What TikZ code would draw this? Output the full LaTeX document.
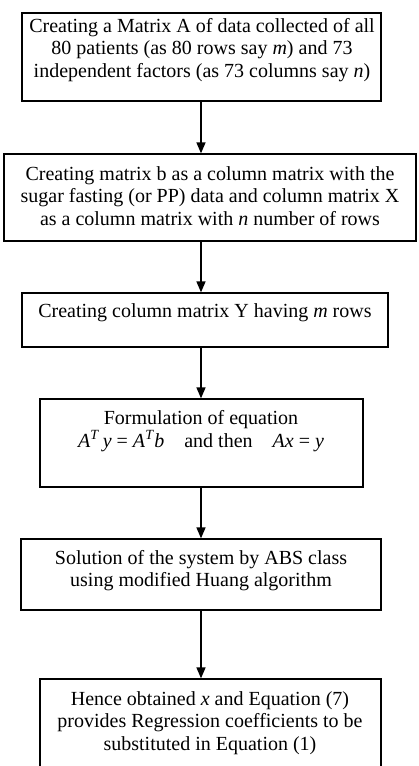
\documentclass[tikz,border=0pt]{standalone}
\usepackage{fontspec}
\setmainfont{Liberation Serif}
\usepackage{tikz}
\usetikzlibrary{arrows.meta}
\tikzset{box/.style={rectangle,draw,line width=1.3pt,inner sep=0pt}}
\tikzset{txt/.style={align=center,inner sep=0pt}}
\tikzset{flow/.style={line width=1.6pt,-{Triangle[width=9pt,length=11pt]}}}

\begin{document}
\begin{tikzpicture}[x=1pt,y=-1pt,font=\fontsize{20}{22.5}\selectfont]
      \useasboundingbox (0,0) rectangle (418,766);
      \coordinate (ax) at (201,0);
      \node[box,minimum width=359pt,minimum height=88pt] (b1) at (201.5,57) {};
      \node[box,minimum width=412pt,minimum height=87pt] (b2) at (210,197.5) {};
      \node[box,minimum width=366pt,minimum height=54pt] (b3) at (205,320) {};
      \node[box,minimum width=323pt,minimum height=88pt] (b4) at (201.5,443) {};
      \node[box,minimum width=360pt,minimum height=71pt] (b5) at (201,574.5) {};
      \node[box,minimum width=341pt,minimum height=90pt] (b6) at (210.5,724) {};
      \node[txt] (t1) at (202,50) {Creating a Matrix A of data collected of all\\
        80 patients (as 80 rows say \textit{m}) and 73\\
        independent factors (as 73 columns say \textit{n})};
      \node[txt] (t2) at (210,196) {Creating matrix b as a column matrix with the\\
        sugar fasting (or PP) data and column matrix X\\
        as a column matrix with \textit{n} number of rows};
      \node[txt] (t3) at (205,313) {Creating column matrix Y having \textit{m} rows};
      \node[txt] (t4) at (201,431) {Formulation of equation\\
        \textit{A}\textsuperscript{\textit{T}}\,\textit{y} = \textit{A}\textsuperscript{\textit{T}}\textit{b}\quad and then\quad \textit{Ax} = \textit{y}};
      \node[txt] (t5) at (201,570.5) {Solution of the system by ABS class\\
        using modified Huang algorithm};
      \node[txt] (t6) at (210,723) {Hence obtained \textit{x} and Equation (7)\\
        provides Regression coefficients to be\\
        substituted in Equation (1)};
        \draw[flow] (b1.south -| ax) -- (b2.north -| ax);
        \draw[flow] (b2.south -| ax) -- (b3.north -| ax);
        \draw[flow] (b3.south -| ax) -- (b4.north -| ax);
        \draw[flow] (b4.south -| ax) -- (b5.north -| ax);
        \draw[flow] (b5.south -| ax) -- (b6.north -| ax);
    \end{tikzpicture}
\end{document}
